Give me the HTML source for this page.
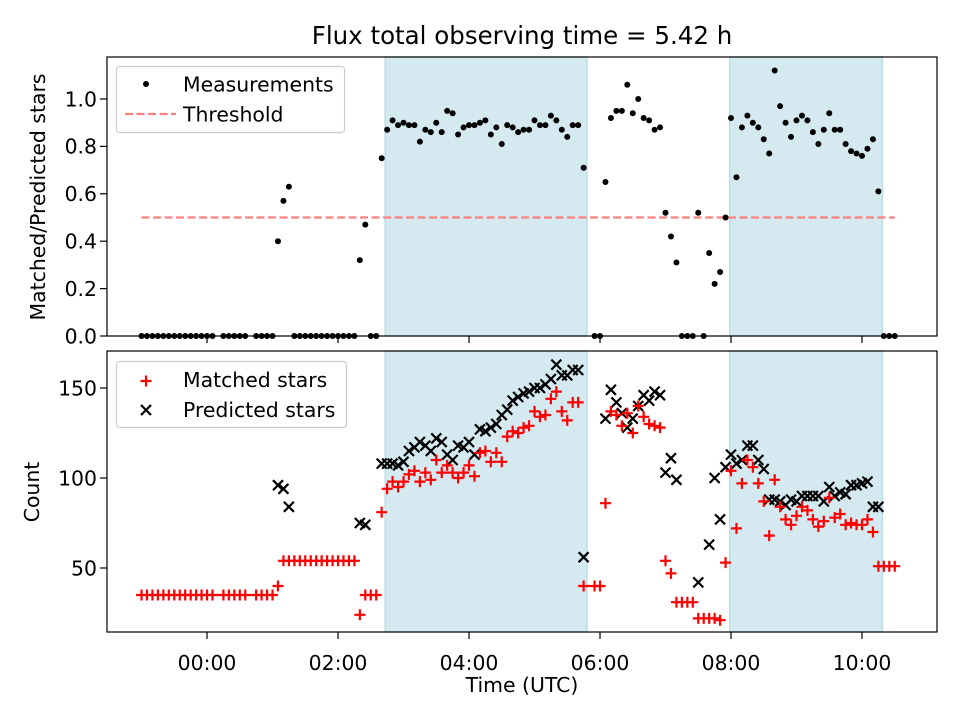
<!DOCTYPE html>
<html><head><meta charset="utf-8">
<style>
body{margin:0;background:#fff;}
svg{display:block;font-family:"DejaVu Sans","Liberation Sans",sans-serif;}
</style></head>
<body>
<svg id="chart" width="960" height="720" viewBox="0 0 960 720" xmlns="http://www.w3.org/2000/svg">
<rect width="960" height="720" fill="#fff"/>
<g id="top"></g>
<g id="bot"></g>
<text x="522" y="44" font-size="24.5" text-anchor="middle" fill="#000">Flux total observing time = 5.42 h</text>
<text x="522" y="692" font-size="20.4" text-anchor="middle">Time (UTC)</text>
<text transform="translate(45,197) rotate(-90)" font-size="20.4" text-anchor="middle">Matched/Predicted stars</text>
<text transform="translate(39,492) rotate(-90)" font-size="20.4" text-anchor="middle">Count</text>
</svg>
<script>
const minutes=[-60,-55,-50,-45,-40,-35,-30,-25,-20,-15,-10,-5,0,5,10,15,20,25,30,35,40,45,50,55,60,65,70,75,80,85,90,95,100,105,110,115,120,125,130,135,140,145,150,155,160,165,170,175,180,185,190,195,200,205,210,215,220,225,230,235,240,245,250,255,260,265,270,275,280,285,290,295,300,305,310,315,320,325,330,335,340,345,350,355,360,365,370,375,380,385,390,395,400,405,410,415,420,425,430,435,440,445,450,455,460,465,470,475,480,485,490,495,500,505,510,515,520,525,530,535,540,545,550,555,560,565,570,575,580,585,590,595,600,605,610,615,620,625,630];
const ratio=[0,0,0,0,0,0,0,0,0,0,0,0,0,0,null,0,0,0,0,0,null,0,0,0,0,
.40,.57,.63,0,0,0,0,0,0,0,0,0,0,0,0,.32,.47,0,0,
.75,.87,.91,.89,.90,.89,.89,.82,.87,.86,.90,.86,.95,.94,.85,.88,.89,.89,.90,.91,.85,.88,.81,.89,.88,.86,.87,.87,.91,.89,.89,.93,.91,.87,.84,.89,.89,.71,
null,0,0,
.65,.92,.95,.95,1.06,.94,1.00,.92,.91,.87,.88,.52,.42,.31,
0,0,0,.52,0,.35,.22,.27,.50,
.92,.67,.88,.93,.90,.88,.83,.77,1.12,.97,.90,.84,.91,.93,.91,.86,.81,.87,.94,.87,.87,.81,.78,.77,.76,.79,.83,.61,
0,0,0];
const matched=[35,35,35,35,35,35,35,35,35,35,35,35,35,35,null,35,35,35,35,35,null,35,35,35,35,
40,54,54,54,54,54,54,54,54,54,54,54,54,54,54,24,35,35,35,
81,94,98,95,98,102,104,98,103,99,110,103,107,103,100,103,107,101,114,115,109,114,109,123,126,125,128,129,137,134,135,144,148,137,132,142,142,40,
null,40,40,
86,137,135,129,136,125,140,134,130,129,128,54,47,31,
31,31,31,22,22,22,22,21,53,
104,72,97,110,106,97,87,68,99,84,77,74,79,84,82,77,73,76,89,78,80,74,75,74,74,77,70,51,
51,51,51];
const predicted=[null,null,null,null,null,null,null,null,null,null,null,null,null,null,null,null,null,null,null,null,null,null,null,null,null,
96,94,84,null,null,null,null,null,null,null,null,null,null,null,null,75,74,null,null,
108,108,108,107,109,115,117,120,118,115,122,120,113,110,118,117,120,113,127,126,128,130,135,138,143,145,147,148,150,150,152,155,163,157,157,160,160,56,
null,null,null,
133,149,142,136,128,133,140,146,143,148,146,103,111,99,
null,null,null,42,null,63,100,77,106,
113,108,110,118,118,110,105,88,88,87,85,88,87,90,90,90,90,87,95,90,92,91,96,96,97,98,84,84,
null,null,null];
const spanStarts=[2.72,7.98];
const spanEnds=[5.80,10.31];
const threshold=0.5;
const xTicks=[0,2,4,6,8,10];
const xTickLabels=["00:00","02:00","04:00","06:00","08:00","10:00"];
const topYTicks=[0,0.2,0.4,0.6,0.8,1.0];
const topYTickLabels=["0.0","0.2","0.4","0.6","0.8","1.0"];
const botYTicks=[50,100,150];
const botYTickLabels=["50","100","150"];

const NS="http://www.w3.org/2000/svg";
const L=107,R=937;
const X0=-1.527,X1=11.145;
function xs(h){return L+(h-X0)/(X1-X0)*(R-L);}
const TT=57,TB=336,T0=0,T1=1.1772;
function ty(v){return TB-(v-T0)/(T1-T0)*(TB-TT);}
const BT=351,BB=632,B0=14.44,B1=170.56;
function by(v){return BB-(v-B0)/(B1-B0)*(BB-BT);}
function mk(tag,attrs,parent){const e=document.createElementNS(NS,tag);for(const k in attrs)e.setAttribute(k,attrs[k]);parent.appendChild(e);return e;}
const FS=20.4;

function panel(g,top,bot,name){
  for(let i=0;i<spanStarts.length;i++){
    const r=mk('rect',{x:xs(spanStarts[i]),y:top,width:xs(spanEnds[i])-xs(spanStarts[i]),height:bot-top,fill:'#d4e9f0',stroke:'#b9dde8','stroke-width':1.5},g);
    
    
  }
}
function frame(g,top,bot,name,labels){
  const f=mk('rect',{x:L,y:top,width:R-L,height:bot-top,fill:'none',stroke:'#000','stroke-width':1.2},g);
  
  
  for(let i=0;i<xTicks.length;i++){
    const x=xs(xTicks[i]);
    mk('line',{x1:x,x2:x,y1:bot,y2:bot+7,stroke:'#000','stroke-width':1.2},g);
    if(labels){
      const t=mk('text',{x:x,y:bot+38,'font-size':FS,'text-anchor':'middle'},g);
      t.textContent=xTickLabels[i];
      
      
    }
  }
}
function yticks(g,ticks,labels,f){
  for(let i=0;i<ticks.length;i++){
    const y=f(ticks[i]);
    mk('line',{x1:L-7,x2:L,y1:y,y2:y,stroke:'#000','stroke-width':1.2},g);
    const t=mk('text',{x:L-10,y:y+7.3,'font-size':FS,'text-anchor':'end'},g);
    t.textContent=labels[i];
    
    
  }
}
function plus(g,x,y,col){mk('path',{d:`M${x-5.5} ${y}H${x+5.5}M${x} ${y-5.5}V${y+5.5}`,stroke:col,'stroke-width':2.2,fill:'none'},g);}
function cross(g,x,y){mk('path',{d:`M${x-5} ${y-5}L${x+5} ${y+5}M${x-5} ${y+5}L${x+5} ${y-5}`,stroke:'#000','stroke-width':2.2,fill:'none'},g);}

const gt=document.getElementById('top'), gb=document.getElementById('bot');
panel(gt,TT,TB,'top');
panel(gb,BT,BB,'bottom');

const thr=mk('line',{x1:xs(minutes[0]/60),x2:xs(minutes[minutes.length-1]/60),y1:ty(threshold),y2:ty(threshold),stroke:'#ff8080','stroke-width':2.2,'stroke-dasharray':'8 3.5'},gt);



const gm=mk('g',{},gt);


for(let i=0;i<minutes.length;i++){
  if(ratio[i]===null)continue;
  mk('circle',{cx:xs(minutes[i]/60),cy:ty(ratio[i]),r:3,fill:'#000'},gm);
}
const gp=mk('g',{},gb);


for(let i=0;i<minutes.length;i++){
  if(predicted[i]===null)continue;
  cross(gp,xs(minutes[i]/60),by(predicted[i]));
}
const gmt=mk('g',{},gb);


for(let i=0;i<minutes.length;i++){
  if(matched[i]===null)continue;
  plus(gmt,xs(minutes[i]/60),by(matched[i]),'#ff0000');
}

frame(gt,TT,TB,'top',false);
frame(gb,BT,BB,'bottom',true);
yticks(gt,topYTicks,topYTickLabels,ty);
yticks(gb,botYTicks,botYTickLabels,by);

const lt=mk('g',{},gt);


mk('rect',{x:116.5,y:66.5,width:228,height:66,rx:3,fill:'#fff','fill-opacity':0.8,stroke:'#ccc','stroke-width':1.2},lt);
mk('circle',{cx:146,cy:84,r:3,fill:'#000'},lt);
mk('line',{x1:125,x2:176,y1:114,y2:114,stroke:'#ff8080','stroke-width':2.2,'stroke-dasharray':'8 3.5'},lt);
let t=mk('text',{x:183,y:91.5,'font-size':FS},lt);t.textContent='Measurements';


t=mk('text',{x:183,y:121.5,'font-size':FS},lt);t.textContent='Threshold';



const lb=mk('g',{},gb);


mk('rect',{x:116.5,y:361.5,width:230,height:66,rx:3,fill:'#fff','fill-opacity':0.8,stroke:'#ccc','stroke-width':1.2},lb);
plus(lb,146,381,'#ff0000');
cross(lb,146,410);
t=mk('text',{x:183,y:387,'font-size':FS},lb);t.textContent='Matched stars';


t=mk('text',{x:183,y:417,'font-size':FS},lb);t.textContent='Predicted stars';


</script>
</body></html>
